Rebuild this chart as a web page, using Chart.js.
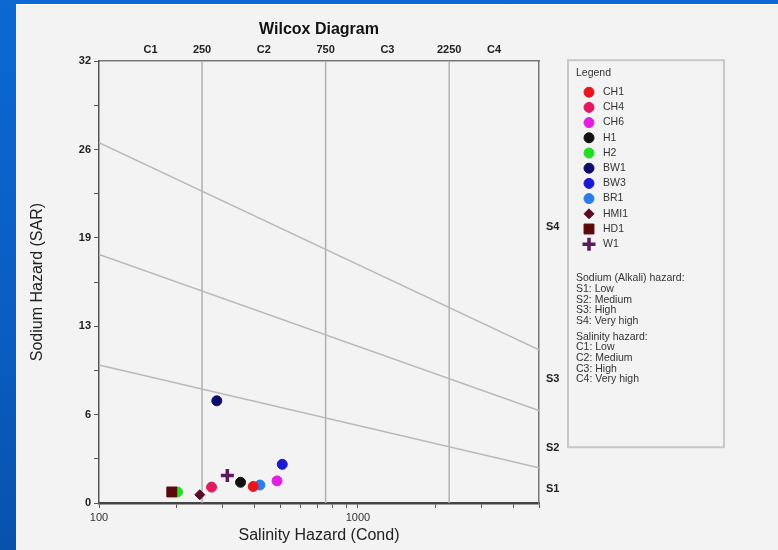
<!DOCTYPE html>
<html>
<head>
<meta charset="utf-8">
<title>Wilcox Diagram</title>
<script src="https://cdn.jsdelivr.net/npm/chart.js@4.4.1/dist/chart.umd.min.js"></script>
<style>
  html, body { margin: 0; padding: 0; }
  body {
    width: 778px; height: 550px; position: relative; overflow: hidden;
    background: linear-gradient(180deg, #0c68d2 0%, #0a5ec4 55%, #0852ac 100%);
  }
  .slide {
    position: absolute; left: 16px; top: 4px; right: 0; bottom: 0;
    background: #f3f3f3; border-top: 1px solid #fbfbfb;
  }
  .wrap { position: absolute; left: 0; top: 0; width: 778px; height: 550px; }
</style>
</head>
<body>
<div class="slide"></div>
<div class="wrap"><canvas id="wilcox"></canvas></div>
<script>
// sample sites: conductivity (x) and SAR (y)
const sites = ['CH1', 'CH4', 'CH6', 'H1', 'H2', 'BW1', 'BW3', 'BR1', 'HMI1', 'HD1', 'W1'];
const conductivity = [394, 272, 487, 352, 201, 285, 510, 418, 245, 191, 313];
const sar = [1.2, 1.15, 1.6, 1.5, 0.8, 7.4, 2.8, 1.3, 0.6, 0.8, 2.0];
const siteColors = ['#e8161c', '#e01a5c', '#e020e0', '#111111', '#22dd22', '#0c0c6c',
                    '#1a1ad6', '#2a7ce8', '#5c0a24', '#5a0a0a', '#5a1a5c'];
const siteStyles = ['circle', 'circle', 'circle', 'circle', 'circle', 'circle',
                    'circle', 'circle', 'rectRot', 'rect', 'cross'];

// hazard class boundaries
const condRange = [100, 5000];
const salinityBreaks = [250, 750, 2250];
const salinityClasses = ['C1', 'C2', 'C3', 'C4'];
const sodiumLines = [
  [10, 2.55],   // S1 / S2
  [18, 6.7],    // S2 / S3
  [26.1, 11.1]  // S3 / S4
];
const sodiumClasses = ['S1', 'S2', 'S3', 'S4'];
const sodiumLabelSar = [1, 4, 9, 20];

// axis ticks
const xTickValues = [100, 200, 300, 400, 500, 600, 700, 800, 900, 1000, 2000, 3000, 4000, 5000];
const xTickLabels = ['100', '', '', '', '', '', '', '', '', '1000', '', '', '', ''];
const yTickValues = [0, 3.2, 6.4, 9.6, 12.8, 16, 19.2, 22.4, 25.6, 28.8, 32];
const yTickLabels = ['0', '', '6', '', '13', '', '19', '', '26', '', '32'];

const sodiumText = ['Sodium (Alkali) hazard:', 'S1: Low', 'S2: Medium', 'S3: High', 'S4: Very high'];
const salinityText = ['Salinity hazard:', 'C1: Low', 'C2: Medium', 'C3: High', 'C4: Very high'];

const FONT = '"Liberation Sans", Arial, sans-serif';

// top labels: class names between breaks, break values on the breaks
const bounds = [condRange[0]].concat(salinityBreaks, [condRange[1]]);
const topTickValues = [];
const topTickLabels = [];
salinityClasses.forEach((c, i) => {
  topTickValues.push(Math.sqrt(bounds[i] * bounds[i + 1]));
  topTickLabels.push(c);
  if (i < salinityBreaks.length) {
    topTickValues.push(salinityBreaks[i]);
    topTickLabels.push(String(salinityBreaks[i]));
  }
});

let datasets = sites.map((name, i) => ({
  label: name,
  site: true,
  data: [{ x: conductivity[i], y: sar[i] }],
  backgroundColor: siteColors[i],
  borderColor: siteColors[i],
  pointStyle: siteStyles[i],
  pointRadius: siteStyles[i] == 'cross' ? 6.5 : (siteStyles[i] == 'rect' ? 7 : 5),
  borderWidth: siteStyles[i] == 'cross' ? 3.5 : 1,
  xAxisID: 'x', yAxisID: 'y',
  // the square sits on top of the green H2 dot in the original
  order: siteStyles[i] == 'rect' ? -1 : 0
}));

sodiumLines.forEach(l => {
  datasets.push({
    type: 'line', label: '', data: [{ x: condRange[0], y: l[0] }, { x: condRange[1], y: l[1] }],
    borderColor: '#b9b9b9', borderWidth: 1.5, pointRadius: 0, showLine: true,
    xAxisID: 'x', yAxisID: 'y', order: 10
  });
});
salinityBreaks.forEach(b => {
  datasets.push({
    type: 'line', label: '', data: [{ x: b, y: 0 }, { x: b, y: 32 }],
    borderColor: '#b0b0b0', borderWidth: 1.5, pointRadius: 0, showLine: true,
    xAxisID: 'x', yAxisID: 'y', order: 10
  });
});

const legendBox = {
  id: 'legendBox',
  afterDraw(chart) {
    const ctx = chart.ctx;
    const left = chart.chartArea.right + 29;
    const top = chart.chartArea.top - 1;
    ctx.save();
    ctx.strokeStyle = '#c8c8c8';
    ctx.lineWidth = 2;
    ctx.strokeRect(left, top, 156, 387);
    ctx.fillStyle = '#333';
    ctx.font = '10.5px ' + FONT;
    ctx.textBaseline = 'middle';
    ctx.textAlign = 'left';
    ctx.fillText('Legend', left + 8, top + 13);

    let y = top + 32;
    chart.data.datasets.forEach(ds => {
      if (!ds.site) return;
      ctx.fillStyle = ds.backgroundColor;
      ctx.strokeStyle = ds.borderColor;
      ctx.lineWidth = ds.borderWidth;
      Chart.helpers.drawPoint(ctx, {
        pointStyle: ds.pointStyle, radius: ds.pointRadius, rotation: 0, borderWidth: ds.borderWidth
      }, left + 21, y);
      ctx.fillStyle = '#333';
      ctx.fillText(ds.label, left + 35, y);
      y += 15.2;
    });

    y = top + 218;
    sodiumText.forEach(t => { ctx.fillText(t, left + 8, y); y += 10.75; });
    y += 5;
    salinityText.forEach(t => { ctx.fillText(t, left + 8, y); y += 10.6; });
    ctx.restore();
  }
};

const ctx = document.getElementById('wilcox');
new Chart(ctx, {
  type: 'scatter',
  data: { datasets: datasets },
  options: {
    responsive: true,
    maintainAspectRatio: false,
    animation: false,
    layout: { padding: { left: 0, right: 209, top: 0, bottom: 0 } },
    plugins: {
      legend: { display: false },
      tooltip: { enabled: false },
      title: {
        display: true,
        text: 'Wilcox Diagram',
        fullSize: false,
        color: '#111',
        font: { family: FONT, size: 16, weight: 'bold' },
        padding: { top: 20, bottom: 4 }
      }
    },
    scales: {
      x: {
        type: 'logarithmic', position: 'bottom',
        min: condRange[0], max: condRange[1],
        afterBuildTicks: s => { s.ticks = xTickValues.map(v => ({ value: v })); },
        afterFit: s => { s.height = 47; },
        ticks: {
          autoSkip: false, maxRotation: 0, padding: 3,
          color: '#333', font: { family: FONT, size: 11 },
          callback: (v, i) => xTickLabels[i]
        },
        grid: { drawOnChartArea: false, drawTicks: true, tickLength: 5, tickColor: '#555' },
        border: { color: '#444', width: 2.5 },
        title: {
          display: true, text: 'Salinity Hazard (Cond)', color: '#222',
          font: { family: FONT, size: 16 }, padding: { top: 0, bottom: 5 }
        }
      },
      xTop: {
        type: 'logarithmic', position: 'top',
        min: condRange[0], max: condRange[1],
        afterBuildTicks: s => { s.ticks = topTickValues.map(v => ({ value: v })); },
        afterFit: s => { s.height = 18; },
        ticks: {
          autoSkip: false, maxRotation: 0, padding: 5,
          color: '#222', font: { family: FONT, size: 11, weight: 'bold' },
          callback: (v, i) => topTickLabels[i]
        },
        grid: { display: false, drawTicks: false },
        border: { color: '#777', width: 1.5 }
      },
      y: {
        type: 'linear', position: 'left',
        min: 0, max: 32,
        afterBuildTicks: s => { s.ticks = yTickValues.map(v => ({ value: v })); },
        afterFit: s => { s.width = 99; },
        ticks: {
          autoSkip: false, padding: 3,
          color: '#222', font: { family: FONT, size: 11, weight: 'bold' },
          callback: (v, i) => yTickLabels[i]
        },
        grid: { drawOnChartArea: false, drawTicks: true, tickLength: 5, tickColor: '#555' },
        border: { color: '#555', width: 1.5 },
        title: {
          display: true, text: 'Sodium Hazard (SAR)', color: '#222',
          font: { family: FONT, size: 16 }, padding: { top: 28, bottom: 0 }
        }
      },
      yS: {
        type: 'linear', position: 'right',
        min: 0, max: 32,
        afterBuildTicks: s => { s.ticks = sodiumLabelSar.map(v => ({ value: v })); },
        afterFit: s => { s.width = 30; },
        ticks: {
          autoSkip: false, padding: 7,
          color: '#222', font: { family: FONT, size: 11, weight: 'bold' },
          callback: (v, i) => sodiumClasses[i]
        },
        grid: { display: false, drawTicks: false },
        border: { color: '#777', width: 1.5 }
      }
    }
  },
  plugins: [legendBox]
});
</script>
</body>
</html>
